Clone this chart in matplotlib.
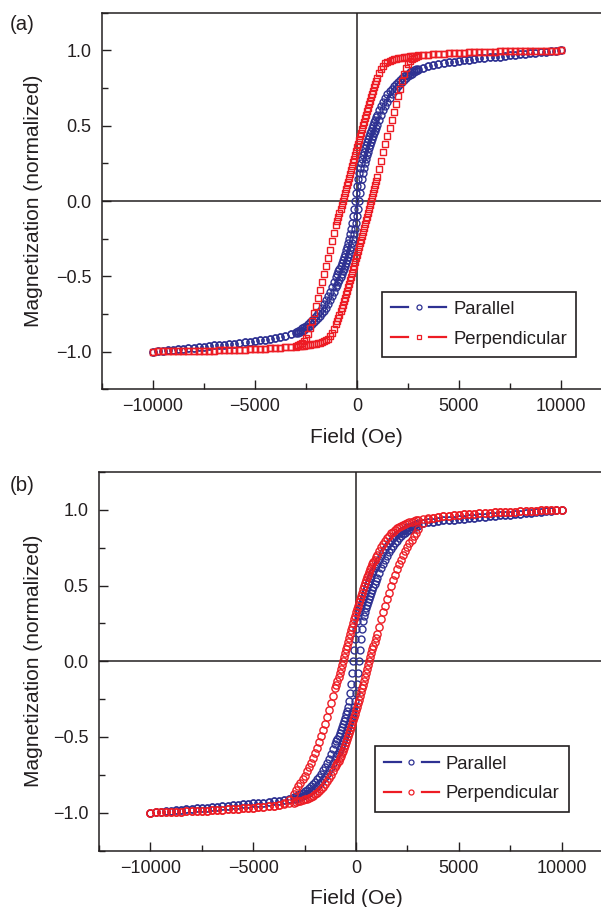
import matplotlib
matplotlib.use("Agg")
import matplotlib.pyplot as plt
from matplotlib.lines import Line2D
from matplotlib.legend_handler import HandlerBase
from matplotlib.ticker import MultipleLocator, FuncFormatter

plt.rcParams['font.family'] = ['Liberation Sans', 'DejaVu Sans']
plt.rcParams['axes.unicode_minus'] = True

# Applied field sweep (Oe), ascending order; the descending sweep uses the same points
FIELD = [
    -10000, -9750, -9500, -9250, -9000, -8750, -8500, -8250, -8000, -7750,
    -7500, -7250, -7000, -6750, -6500, -6250, -6000, -5750, -5500, -5250,
    -5000, -4750, -4500, -4250, -4000, -3750, -3500, -3250,
    -3000, -2900, -2800, -2700, -2600, -2500, -2400, -2300, -2200, -2100,
    -2000, -1900, -1800, -1700, -1600, -1500, -1400, -1300, -1200, -1100,
    -1000, -950, -900, -850, -800, -750, -700, -650, -600, -550,
    -500, -450, -400, -350, -300, -250, -200, -150, -100, -50,
    0, 50, 100, 150, 200, 250, 300, 350, 400, 450,
    500, 550, 600, 650, 700, 750, 800, 850, 900, 950, 1000,
    1100, 1200, 1300, 1400, 1500, 1600, 1700, 1800, 1900, 2000,
    2100, 2200, 2300, 2400, 2500, 2600, 2700, 2800, 2900, 3000,
    3250, 3500, 3750, 4000, 4250, 4500, 4750, 5000, 5250, 5500,
    5750, 6000, 6250, 6500, 6750, 7000, 7250, 7500, 7750, 8000,
    8250, 8500, 8750, 9000, 9250, 9500, 9750, 10000,
]

# (a) parallel: ascending-field branch and descending-field branch
A_PAR_UP = [
    -1.000, -0.997, -0.993, -0.990, -0.986, -0.983, -0.980, -0.976, -0.973, -0.970,
    -0.966, -0.963, -0.959, -0.956, -0.953, -0.949, -0.946, -0.943, -0.939, -0.935,
    -0.931, -0.926, -0.921, -0.915, -0.909, -0.902, -0.894, -0.885,
    -0.878, -0.873, -0.867, -0.861, -0.854, -0.846, -0.837, -0.827, -0.816, -0.804,
    -0.791, -0.777, -0.762, -0.745, -0.727, -0.707, -0.685, -0.660, -0.633, -0.604,
    -0.573, -0.557, -0.540, -0.523, -0.505, -0.487, -0.468, -0.449, -0.430, -0.410,
    -0.390, -0.370, -0.349, -0.327, -0.304, -0.279, -0.251, -0.220, -0.185, -0.145,
    -0.100, -0.050, 0.000, 0.050, 0.100, 0.145, 0.185, 0.220, 0.251, 0.279,
    0.304, 0.327, 0.349, 0.370, 0.390, 0.410, 0.430, 0.449, 0.468, 0.487, 0.505,
    0.540, 0.573, 0.604, 0.633, 0.660, 0.685, 0.707, 0.727, 0.745, 0.762,
    0.777, 0.791, 0.804, 0.816, 0.827, 0.837, 0.846, 0.854, 0.861, 0.867,
    0.885, 0.894, 0.902, 0.909, 0.915, 0.921, 0.926, 0.931, 0.935, 0.939,
    0.943, 0.946, 0.949, 0.953, 0.956, 0.959, 0.963, 0.966, 0.970, 0.973,
    0.976, 0.980, 0.983, 0.986, 0.990, 0.993, 0.997, 1.000,
]
A_PAR_DOWN = [
    -1.000, -0.997, -0.993, -0.990, -0.986, -0.983, -0.980, -0.976, -0.973, -0.970,
    -0.966, -0.963, -0.959, -0.956, -0.953, -0.949, -0.946, -0.943, -0.939, -0.935,
    -0.931, -0.926, -0.921, -0.915, -0.909, -0.902, -0.894, -0.885,
    -0.867, -0.861, -0.854, -0.846, -0.837, -0.827, -0.816, -0.804, -0.791, -0.777,
    -0.762, -0.745, -0.727, -0.707, -0.685, -0.660, -0.633, -0.604, -0.573, -0.540,
    -0.505, -0.487, -0.468, -0.449, -0.430, -0.410, -0.390, -0.370, -0.349, -0.327,
    -0.304, -0.279, -0.251, -0.220, -0.185, -0.145, -0.100, -0.050, 0.000, 0.050,
    0.100, 0.145, 0.185, 0.220, 0.251, 0.279, 0.304, 0.327, 0.349, 0.370,
    0.390, 0.410, 0.430, 0.449, 0.468, 0.487, 0.505, 0.523, 0.540, 0.557, 0.573,
    0.604, 0.633, 0.660, 0.685, 0.707, 0.727, 0.745, 0.762, 0.777, 0.791,
    0.804, 0.816, 0.827, 0.837, 0.846, 0.854, 0.861, 0.867, 0.873, 0.878,
    0.885, 0.894, 0.902, 0.909, 0.915, 0.921, 0.926, 0.931, 0.935, 0.939,
    0.943, 0.946, 0.949, 0.953, 0.956, 0.959, 0.963, 0.966, 0.970, 0.973,
    0.976, 0.980, 0.983, 0.986, 0.990, 0.993, 0.997, 1.000,
]

# (a) perpendicular
A_PERP_UP = [
    -1.000, -0.999, -0.999, -0.998, -0.998, -0.997, -0.997, -0.996, -0.996, -0.995,
    -0.994, -0.994, -0.993, -0.992, -0.991, -0.990, -0.989, -0.988, -0.987, -0.985,
    -0.984, -0.982, -0.980, -0.978, -0.976, -0.974, -0.972, -0.969,
    -0.966, -0.965, -0.963, -0.962, -0.960, -0.958, -0.956, -0.954, -0.952, -0.950,
    -0.947, -0.944, -0.940, -0.936, -0.931, -0.924, -0.914, -0.899, -0.878, -0.850,
    -0.815, -0.796, -0.775, -0.754, -0.732, -0.710, -0.688, -0.666, -0.643, -0.620,
    -0.597, -0.574, -0.550, -0.526, -0.502, -0.478, -0.454, -0.430, -0.405, -0.381,
    -0.356, -0.331, -0.306, -0.281, -0.256, -0.231, -0.205, -0.180, -0.154, -0.129,
    -0.103, -0.078, -0.052, -0.026, 0.000, 0.026, 0.053, 0.080, 0.106, 0.133, 0.160,
    0.214, 0.268, 0.322, 0.376, 0.430, 0.484, 0.537, 0.590, 0.642, 0.694,
    0.745, 0.794, 0.840, 0.880, 0.910, 0.930, 0.943, 0.951, 0.957, 0.962,
    0.967, 0.972, 0.974, 0.976, 0.978, 0.980, 0.982, 0.984, 0.985, 0.987,
    0.988, 0.989, 0.990, 0.991, 0.992, 0.993, 0.994, 0.994, 0.995, 0.996,
    0.996, 0.997, 0.997, 0.998, 0.998, 0.999, 0.999, 1.000,
]
A_PERP_DOWN = [
    -1.000, -0.999, -0.999, -0.998, -0.998, -0.997, -0.997, -0.996, -0.996, -0.995,
    -0.994, -0.994, -0.993, -0.992, -0.991, -0.990, -0.989, -0.988, -0.987, -0.985,
    -0.984, -0.982, -0.980, -0.978, -0.976, -0.974, -0.972, -0.967,
    -0.962, -0.957, -0.951, -0.943, -0.930, -0.910, -0.880, -0.840, -0.794, -0.745,
    -0.694, -0.642, -0.590, -0.537, -0.484, -0.430, -0.376, -0.322, -0.268, -0.214,
    -0.160, -0.133, -0.106, -0.080, -0.053, -0.026, 0.000, 0.026, 0.052, 0.078,
    0.103, 0.129, 0.154, 0.180, 0.205, 0.231, 0.256, 0.281, 0.306, 0.331,
    0.356, 0.381, 0.405, 0.430, 0.454, 0.478, 0.502, 0.526, 0.550, 0.574,
    0.597, 0.620, 0.643, 0.666, 0.688, 0.710, 0.732, 0.754, 0.775, 0.796, 0.815,
    0.850, 0.878, 0.899, 0.914, 0.924, 0.931, 0.936, 0.940, 0.944, 0.947,
    0.950, 0.952, 0.954, 0.956, 0.958, 0.960, 0.962, 0.963, 0.965, 0.966,
    0.969, 0.972, 0.974, 0.976, 0.978, 0.980, 0.982, 0.984, 0.985, 0.987,
    0.988, 0.989, 0.990, 0.991, 0.992, 0.993, 0.994, 0.994, 0.995, 0.996,
    0.996, 0.997, 0.997, 0.998, 0.998, 0.999, 0.999, 1.000,
]

# (b) parallel
B_PAR_UP = [
    -1.000, -0.997, -0.994, -0.990, -0.987, -0.984, -0.981, -0.978, -0.975, -0.972,
    -0.969, -0.966, -0.963, -0.960, -0.957, -0.954, -0.951, -0.948, -0.945, -0.942,
    -0.939, -0.936, -0.933, -0.930, -0.926, -0.922, -0.918, -0.913,
    -0.911, -0.907, -0.902, -0.896, -0.890, -0.884, -0.876, -0.868, -0.859, -0.849,
    -0.838, -0.826, -0.812, -0.797, -0.781, -0.763, -0.743, -0.721, -0.697, -0.671,
    -0.643, -0.628, -0.613, -0.597, -0.581, -0.564, -0.547, -0.529, -0.511, -0.492,
    -0.473, -0.454, -0.434, -0.414, -0.393, -0.372, -0.350, -0.327, -0.300, -0.265,
    -0.213, -0.148, -0.075, 0.000, 0.075, 0.148, 0.213, 0.265, 0.300, 0.327,
    0.350, 0.372, 0.393, 0.414, 0.434, 0.454, 0.473, 0.492, 0.511, 0.529, 0.547,
    0.581, 0.613, 0.643, 0.671, 0.697, 0.721, 0.743, 0.763, 0.781, 0.797,
    0.812, 0.826, 0.838, 0.849, 0.859, 0.868, 0.876, 0.884, 0.890, 0.896,
    0.913, 0.918, 0.922, 0.926, 0.930, 0.933, 0.936, 0.939, 0.942, 0.945,
    0.948, 0.951, 0.954, 0.957, 0.960, 0.963, 0.966, 0.969, 0.972, 0.975,
    0.978, 0.981, 0.984, 0.987, 0.990, 0.994, 0.997, 1.000,
]
B_PAR_DOWN = [
    -1.000, -0.997, -0.994, -0.990, -0.987, -0.984, -0.981, -0.978, -0.975, -0.972,
    -0.969, -0.966, -0.963, -0.960, -0.957, -0.954, -0.951, -0.948, -0.945, -0.942,
    -0.939, -0.936, -0.933, -0.930, -0.926, -0.922, -0.918, -0.913,
    -0.896, -0.890, -0.884, -0.876, -0.868, -0.859, -0.849, -0.838, -0.826, -0.812,
    -0.797, -0.781, -0.763, -0.743, -0.721, -0.697, -0.671, -0.643, -0.613, -0.581,
    -0.547, -0.529, -0.511, -0.492, -0.473, -0.454, -0.434, -0.414, -0.393, -0.372,
    -0.350, -0.327, -0.300, -0.265, -0.213, -0.148, -0.075, 0.000, 0.075, 0.148,
    0.213, 0.265, 0.300, 0.327, 0.350, 0.372, 0.393, 0.414, 0.434, 0.454,
    0.473, 0.492, 0.511, 0.529, 0.547, 0.564, 0.581, 0.597, 0.613, 0.628, 0.643,
    0.671, 0.697, 0.721, 0.743, 0.763, 0.781, 0.797, 0.812, 0.826, 0.838,
    0.849, 0.859, 0.868, 0.876, 0.884, 0.890, 0.896, 0.902, 0.907, 0.911,
    0.913, 0.918, 0.922, 0.926, 0.930, 0.933, 0.936, 0.939, 0.942, 0.945,
    0.948, 0.951, 0.954, 0.957, 0.960, 0.963, 0.966, 0.969, 0.972, 0.975,
    0.978, 0.981, 0.984, 0.987, 0.990, 0.994, 0.997, 1.000,
]

# (b) perpendicular
B_PERP_UP = [
    -1.000, -0.999, -0.998, -0.997, -0.996, -0.995, -0.993, -0.992, -0.991, -0.989,
    -0.988, -0.986, -0.985, -0.983, -0.981, -0.979, -0.977, -0.975, -0.972, -0.970,
    -0.967, -0.964, -0.961, -0.957, -0.953, -0.948, -0.943, -0.938,
    -0.933, -0.930, -0.926, -0.922, -0.918, -0.913, -0.907, -0.901, -0.895, -0.887,
    -0.879, -0.869, -0.857, -0.844, -0.829, -0.812, -0.794, -0.774, -0.752, -0.727,
    -0.700, -0.686, -0.671, -0.656, -0.640, -0.624, -0.607, -0.590, -0.572, -0.554,
    -0.535, -0.516, -0.496, -0.475, -0.454, -0.433, -0.412, -0.390, -0.368, -0.346,
    -0.323, -0.300, -0.277, -0.253, -0.229, -0.204, -0.179, -0.154, -0.129, -0.103,
    -0.078, -0.052, -0.026, 0.000, 0.026, 0.052, 0.078, 0.103, 0.129, 0.154, 0.179,
    0.229, 0.277, 0.323, 0.368, 0.412, 0.454, 0.496, 0.535, 0.572, 0.607,
    0.640, 0.671, 0.700, 0.727, 0.755, 0.778, 0.801, 0.825, 0.850, 0.874,
    0.915, 0.938, 0.948, 0.953, 0.957, 0.961, 0.964, 0.967, 0.970, 0.972,
    0.975, 0.977, 0.979, 0.981, 0.983, 0.985, 0.986, 0.988, 0.989, 0.991,
    0.992, 0.993, 0.995, 0.996, 0.997, 0.998, 0.999, 1.000,
]
B_PERP_DOWN = [
    -1.000, -0.999, -0.998, -0.997, -0.996, -0.995, -0.993, -0.992, -0.991, -0.989,
    -0.988, -0.986, -0.985, -0.983, -0.981, -0.979, -0.977, -0.975, -0.972, -0.970,
    -0.967, -0.964, -0.961, -0.957, -0.953, -0.948, -0.938, -0.915,
    -0.874, -0.850, -0.825, -0.801, -0.778, -0.755, -0.727, -0.700, -0.671, -0.640,
    -0.607, -0.572, -0.535, -0.496, -0.454, -0.412, -0.368, -0.323, -0.277, -0.229,
    -0.179, -0.154, -0.129, -0.103, -0.078, -0.052, -0.026, 0.000, 0.026, 0.052,
    0.078, 0.103, 0.129, 0.154, 0.179, 0.204, 0.229, 0.253, 0.277, 0.300,
    0.323, 0.346, 0.368, 0.390, 0.412, 0.433, 0.454, 0.475, 0.496, 0.516,
    0.535, 0.554, 0.572, 0.590, 0.607, 0.624, 0.640, 0.656, 0.671, 0.686, 0.700,
    0.727, 0.752, 0.774, 0.794, 0.812, 0.829, 0.844, 0.857, 0.869, 0.879,
    0.887, 0.895, 0.901, 0.907, 0.913, 0.918, 0.922, 0.926, 0.930, 0.933,
    0.938, 0.943, 0.948, 0.953, 0.957, 0.961, 0.964, 0.967, 0.970, 0.972,
    0.975, 0.977, 0.979, 0.981, 0.983, 0.985, 0.986, 0.988, 0.989, 0.991,
    0.992, 0.993, 0.995, 0.996, 0.997, 0.998, 0.999, 1.000,
]

LABELS = ["Parallel", "Perpendicular"]
PANEL_TAGS = ["(a)", "(b)"]
BLUE = "#2e3192"
RED = "#ed1c24"
INK = "#231f20"

FIG_W, FIG_H = 601, 907


class GapLineHandler(HandlerBase):
    """Legend key drawn as: line segment, open marker, line segment."""

    def create_artists(self, legend, orig_handle, xdescent, ydescent,
                       width, height, fontsize, trans):
        color = orig_handle.get_color()
        lw = orig_handle.get_linewidth()
        y = height / 2.0 - ydescent
        x0 = -xdescent
        seg = width * 0.31
        left = Line2D([x0, x0 + seg], [y, y], color=color, lw=lw)
        right = Line2D([x0 + width - seg, x0 + width], [y, y], color=color, lw=lw)
        mark = Line2D([x0 + width / 2.0], [y], ls="none",
                      marker=orig_handle.get_marker(),
                      ms=orig_handle.get_markersize(),
                      mfc="white", mec=color,
                      mew=orig_handle.get_markeredgewidth())
        for art in (left, right, mark):
            art.set_transform(trans)
        return [left, right, mark]


def px_axes(fig, left, top, right, bottom):
    return fig.add_axes([left / FIG_W, 1 - bottom / FIG_H,
                         (right - left) / FIG_W, (bottom - top) / FIG_H])


def loop(up, down):
    xs = FIELD[::-1] + FIELD
    ys = down[::-1] + up
    return xs, ys


def fmt_y(v, _pos):
    s = f"{v:.1f}"
    return s.replace("-", "\u2212")


def style_axes(ax):
    ax.set_xlim(-12500, 12500)
    ax.set_ylim(-1.25, 1.25)
    ax.xaxis.set_major_locator(MultipleLocator(5000))
    ax.xaxis.set_minor_locator(MultipleLocator(2500))
    ax.yaxis.set_major_locator(MultipleLocator(0.5))
    ax.yaxis.set_minor_locator(MultipleLocator(0.25))
    ax.yaxis.set_major_formatter(FuncFormatter(fmt_y))
    ax.tick_params(which="both", direction="in", color=INK, width=1.0,
                   labelsize=13, labelcolor=INK, top=False, right=False)
    ax.tick_params(which="major", length=6.5)
    ax.tick_params(which="minor", length=4)
    ax.tick_params(axis="x", which="major", pad=6.5)
    ax.tick_params(axis="y", which="major", pad=7.5)
    for sp in ax.spines.values():
        sp.set_linewidth(1.1)
        sp.set_color(INK)
    ax.axhline(0, color=INK, lw=1.1, zorder=1)
    ax.axvline(0, color=INK, lw=1.1, zorder=1)
    ax.set_xlabel("Field (Oe)", fontsize=15, color=INK)
    ax.set_ylabel("Magnetization (normalized)", fontsize=15, color=INK)


fig = plt.figure(figsize=(FIG_W / 100, FIG_H / 100), dpi=100)

ax_a = px_axes(fig, 101.7, 12.7, 612.0, 389.3)
ax_b = px_axes(fig, 99.0, 472.0, 613.0, 850.5)

panels = [
    (ax_a, (A_PAR_UP, A_PAR_DOWN), (A_PERP_UP, A_PERP_DOWN), "s",
     (0.9295, 0.0858), 101.7, 612.0),
    (ax_b, (B_PAR_UP, B_PAR_DOWN), (B_PERP_UP, B_PERP_DOWN), "o",
     (0.914, 0.1025), 99.0, 613.0),
]

for ax, par, perp, perp_marker, leg_anchor, x_left, x_right in panels:
    style_axes(ax)
    xs, ys = loop(*par)
    ax.plot(xs, ys, ls="none", marker="o", ms=5.0, mfc="none", mec=BLUE,
            mew=1.0, zorder=3)
    xs, ys = loop(*perp)
    ms_perp = 4.4 if perp_marker == "s" else 5.2
    ax.plot(xs, ys, ls="none", marker=perp_marker, ms=ms_perp, mfc="none",
            mec=RED, mew=1.0, zorder=4)

    ax.xaxis.set_label_coords(0.5, -0.102)
    ax.yaxis.set_label_coords((43.5 - x_left) / (x_right - x_left), 0.5)

    handles = [
        Line2D([], [], color=BLUE, lw=1.6, marker="o", ms=3.6, mew=0.9),
        Line2D([], [], color=RED, lw=1.6, marker=perp_marker,
               ms=3.2 if perp_marker == "s" else 3.6, mew=0.9),
    ]
    leg = ax.legend(handles, LABELS, loc="lower right",
                    bbox_to_anchor=leg_anchor, borderaxespad=0,
                    fontsize=13.3, handlelength=2.97, handletextpad=0.38,
                    borderpad=0.5, labelspacing=0.7, fancybox=False,
                    framealpha=1, edgecolor=INK,
                    handler_map={Line2D: GapLineHandler()})
    leg.get_frame().set_linewidth(1.2)
    for t in leg.get_texts():
        t.set_color(INK)

fig.text(22 / FIG_W, 1 - 25 / FIG_H, PANEL_TAGS[0], fontsize=14.7,
         color=INK, ha="center", va="center")
fig.text(22 / FIG_W, 1 - 485 / FIG_H, PANEL_TAGS[1], fontsize=14.7,
         color=INK, ha="center", va="center")

fig.savefig("out.png", dpi=100)
